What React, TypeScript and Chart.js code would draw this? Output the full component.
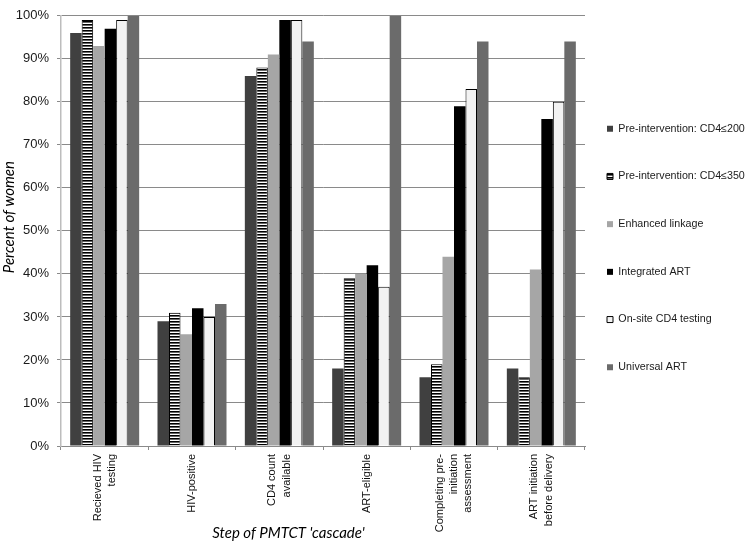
import React, { useEffect, useRef } from "react";
import { Chart, registerables } from "chart.js";

Chart.register(...registerables);

const categories: (string | string[])[] = [
  ["Recieved HIV", "testing"],
  "HIV-positive",
  ["CD4 count", "available"],
  "ART-eligible",
  ["Completing pre-", "initiation", "assessment"],
  ["ART initiation", "before delivery"],
];

const seriesNames = [
  "Pre-intervention: CD4≤200",
  "Pre-intervention: CD4≤350",
  "Enhanced linkage",
  "Integrated ART",
  "On-site CD4 testing",
  "Universal ART",
];

const pre200 = [96, 29, 86, 18, 16, 18];
const pre350 = [99, 31, 88, 39, 19, 16];
const enhanced = [93, 26, 91, 40, 44, 41];
const integrated = [97, 32, 99, 42, 79, 76];
const onsite = [99, 30, 99, 37, 83, 80];
const universal = [100, 33, 94, 100, 94, 94];

const yTicks = [0, 10, 20, 30, 40, 50, 60, 70, 80, 90, 100];

const xTitle = "Step of PMTCT 'cascade'";
const yTitle = "Percent of women";

function makeStripes(): CanvasPattern | string {
  const c = document.createElement("canvas");
  c.width = 4;
  c.height = 3;
  const g = c.getContext("2d");
  if (!g) return "#888";
  g.fillStyle = "#ffffff";
  g.fillRect(0, 0, 4, 3);
  g.fillStyle = "#000000";
  g.fillRect(0, 0, 4, 1);
  g.fillStyle = "#666666";
  g.fillRect(0, 1, 4, 1);
  return g.createPattern(c, "repeat") || "#888";
}

export default function App() {
  const ref = useRef<HTMLCanvasElement | null>(null);

  useEffect(() => {
    if (!ref.current) return;
    const stripes = makeStripes();

    const titlePlugin = {
      id: "axisTitles",
      afterLayout(chart: any) {
        const lg = chart.legend;
        if (lg) {
          lg.left = 570;
          lg.top = 0;
          lg.bottom = 496;
        }
      },
      beforeDraw(chart: any) {
        // centre multi-line rotated tick labels on their category
        const xs = chart.scales.x;
        if (!xs || !xs.getLabelItems) return;
        const items = xs.getLabelItems(chart.chartArea);
        items.forEach((it: any) => {
          if (it._centred) return;
          const lines = Array.isArray(it.label) ? it.label.length : 1;
          if (lines > 1) {
            const lh = it.font.lineHeight;
            it.options.translation[0] -= ((lines - 1) * lh) / 2;
          }
          it._centred = true;
        });
      },
      afterDraw(chart: any) {
        const ctx = chart.ctx as CanvasRenderingContext2D;
        const a = chart.chartArea;
        ctx.save();
        ctx.fillStyle = "#000";
        ctx.textAlign = "center";
        ctx.textBaseline = "middle";
        ctx.font = "italic 15px Lato";
        ctx.fillText(xTitle, a.left + 0.434 * (a.right - a.left), 533);
        ctx.translate(9, a.top + 0.468 * (a.bottom - a.top));
        ctx.rotate(-Math.PI / 2);
        ctx.font = "italic 15px Lato";
        ctx.fillText(yTitle, 0, 0);
        ctx.restore();
      },
    };

    const chart = new Chart(ref.current, {
      type: "bar",
      data: {
        labels: categories,
        datasets: [
          { label: seriesNames[0], data: pre200, backgroundColor: "#404040", borderWidth: 0 },
          {
            label: seriesNames[1],
            data: pre350,
            backgroundColor: stripes as any,
            borderColor: "#000",
            borderWidth: 1,
          },
          { label: seriesNames[2], data: enhanced, backgroundColor: "#a6a6a6", borderWidth: 0 },
          { label: seriesNames[3], data: integrated, backgroundColor: "#000000", borderWidth: 0 },
          {
            label: seriesNames[4],
            data: onsite,
            backgroundColor: "#f2f2f2",
            borderColor: "#000",
            borderWidth: 1,
          },
          { label: seriesNames[5], data: universal, backgroundColor: "#6b6b6b", borderWidth: 0 },
        ],
      },
      options: {
        animation: false,
        responsive: false,
        devicePixelRatio: 1,
        layout: { padding: { top: 10, left: 0, right: 0, bottom: 0 } },
        datasets: {
          bar: { categoryPercentage: 0.79, barPercentage: 1 },
        },
        plugins: {
          tooltip: { enabled: false },
          title: { display: false },
          legend: {
            position: "right",
            maxWidth: 165,
            labels: {
              boxWidth: 6,
              boxHeight: 6,
              padding: 37,
              color: "#1a1a1a",
              font: { family: "'Liberation Sans', Arial", size: 10.7 },
            },
          },
        },
        scales: {
          x: {
            afterFit(scale: any) {
              scale.height = 97;
            },
            grid: {
              offset: true,
              drawOnChartArea: false,
              drawTicks: true,
              tickLength: 4,
              color: "#8a8a8a",
            },
            border: { color: "#8a8a8a", width: 1 },
            ticks: {
              autoSkip: false,
              maxRotation: 90,
              minRotation: 90,
              padding: 4,
              color: "#111",
              font: { family: "'Liberation Sans', Arial", size: 11, lineHeight: 1.3 },
            },
          },
          y: {
            min: 0,
            max: 100,
            afterFit(scale: any) {
              scale.width = 61;
            },
            afterBuildTicks(scale: any) {
              scale.ticks = yTicks.map((v) => ({ value: v }));
            },
            grid: {
              color: "#8a8a8a",
              drawTicks: true,
              tickLength: 4,
            },
            border: { color: "#bdbdbd", width: 1.5 },
            ticks: {
              padding: 8,
              color: "#1a1a1a",
              font: { family: "'Liberation Sans', Arial", size: 13 },
              callback: (v: any) => v + "%",
            },
          },
        },
      },
      plugins: [titlePlugin],
    });

    return () => chart.destroy();
  }, []);

  return (
    <div style={{ position: "absolute", left: 0, top: 0, width: 750, height: 543, background: "#fff" }}>
      <canvas ref={ref} width={750} height={543} />
    </div>
  );
}
